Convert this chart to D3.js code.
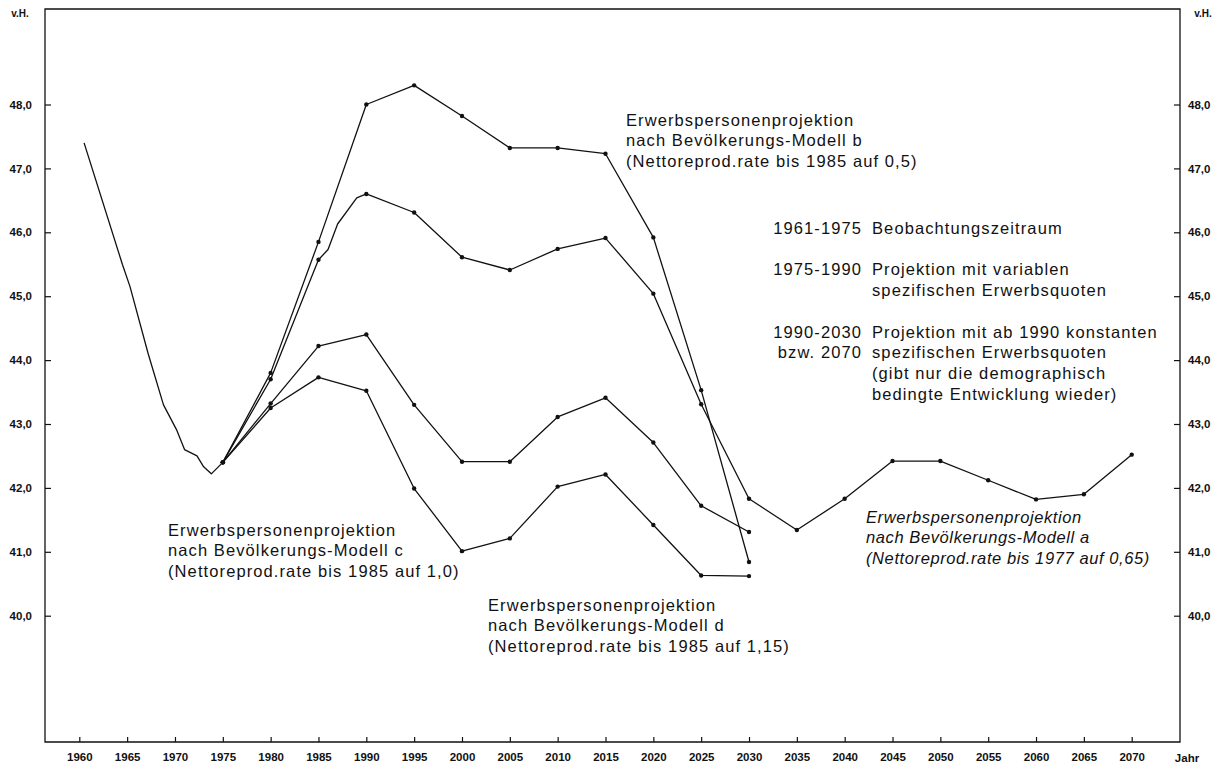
<!DOCTYPE html>
<html><head><meta charset="utf-8">
<script src="https://cdn.jsdelivr.net/npm/d3@7"></script>
<style>
html,body{margin:0;padding:0;background:#fff;}
svg{display:block;font-family:"Liberation Sans",Arial,Helvetica,sans-serif;}
</style></head>
<body><svg id="c" width="1223" height="764"></svg>
<script>
// ---- data ----
const xTickYears = d3.range(1960, 2071, 5);
const yTickValues = [40, 41, 42, 43, 44, 45, 46, 47, 48];
const observedYears = [1960.5, 1964.5, 1965.3, 1967.2, 1968.8, 1970.2, 1971.0, 1972.3, 1973.0, 1973.8, 1975];
const observedValues = [47.4, 45.5, 45.15, 44.1, 43.3, 42.9, 42.6, 42.5, 42.33, 42.22, 42.4];
const projYears = [1975, 1980, 1985, 1990, 1995, 2000, 2005, 2010, 2015, 2020, 2025, 2030];
const modelB = [42.4, 43.8, 45.85, 48.0, 48.3, 47.82, 47.32, 47.32, 47.23, 45.92, 43.53, 40.84];
const modelC = [42.4, 43.32, 44.22, 44.4, 43.3, 42.41, 42.41, 43.11, 43.41, 42.71, 41.72, 41.31];
const modelD = [42.4, 43.25, 43.73, 43.52, 41.99, 41.01, 41.21, 42.02, 42.21, 41.42, 40.63, 40.62];
const modelAYears = [1975, 1980, 1984, 1985, 1986, 1987, 1989, 1990, 1995, 2000, 2005, 2010, 2015, 2020, 2025, 2030, 2035, 2040, 2045, 2050, 2055, 2060, 2065, 2070];
const modelA = [42.4, 43.7, 45.2, 45.57, 45.73, 46.13, 46.54, 46.6, 46.31, 45.61, 45.41, 45.74, 45.91, 45.04, 43.31, 41.83, 41.34, 41.83, 42.42, 42.42, 42.12, 41.82, 41.9, 42.52];

const labelB = ["Erwerbspersonenprojektion", "nach Bevölkerungs-Modell b", "(Nettoreprod.rate bis 1985 auf 0,5)"];
const labelC = ["Erwerbspersonenprojektion", "nach Bevölkerungs-Modell c", "(Nettoreprod.rate bis 1985 auf 1,0)"];
const labelD = ["Erwerbspersonenprojektion", "nach Bevölkerungs-Modell d", "(Nettoreprod.rate bis 1985 auf 1,15)"];
const labelA = ["Erwerbspersonenprojektion", "nach Bevölkerungs-Modell a", "(Nettoreprod.rate bis 1977 auf 0,65)"];
const legendKeys = ["1961-1975", "1975-1990", "", "1990-2030", "bzw. 2070", "", ""];
const legendTexts = ["Beobachtungszeitraum", "Projektion mit variablen", "spezifischen Erwerbsquoten",
  "Projektion mit ab 1990 konstanten", "spezifischen Erwerbsquoten", "(gibt nur die demographisch", "bedingte Entwicklung wieder)"];
const legendRows = [0, 2, 3, 5, 6, 7, 8];

// ---- layout ----
const svg = d3.select("#c");
const L = 45, R = 1180, T = 9, B = 742;
const x = d3.scaleLinear().domain([1960, 2070]).range([79.3, 1131.7]);
const y = d3.scaleLinear().domain([40, 48]).range([615.7, 104.5]);
const ink = "#111";
const FS = "16.5px", LS = "1.1px";

// frame
svg.append("path").attr("d", `M${L},${T}H${R}V${B}H${L}Z`).attr("fill", "none").attr("stroke", ink).attr("stroke-width", 1.3);

// bottom axis
const xAxis = d3.axisBottom(x).tickValues(xTickYears).tickFormat(d3.format("d")).tickSizeInner(-5).tickSizeOuter(0).tickPadding(11);
const gx = svg.append("g").attr("transform", `translate(0,${B})`).call(xAxis);
gx.select(".domain").remove();
gx.selectAll("line").attr("stroke", ink).attr("stroke-width", 1.2);
gx.selectAll("text").attr("fill", ink).style("font-size", "11.5px").style("font-weight", "bold");
svg.append("text").attr("x", 1187).attr("y", 762).attr("text-anchor", "middle").attr("fill", ink)
  .style("font-size", "11.5px").style("font-weight", "bold").text("Jahr");

// left axis
const fmt = v => d3.format(".1f")(v).replace(".", ",");
const yl = d3.axisLeft(y).tickValues(yTickValues).tickFormat(fmt).tickSizeInner(-6).tickSizeOuter(0).tickPadding(13);
const gyl = svg.append("g").attr("transform", `translate(${L},0)`).call(yl);
gyl.select(".domain").remove();
gyl.selectAll("line").attr("stroke", ink).attr("stroke-width", 1.2);
gyl.selectAll("text").attr("fill", ink).style("font-size", "11.5px").style("font-weight", "bold");
// right axis
const yr = d3.axisRight(y).tickValues(yTickValues).tickFormat(fmt).tickSizeInner(-6).tickSizeOuter(0).tickPadding(8);
const gyr = svg.append("g").attr("transform", `translate(${R},0)`).call(yr);
gyr.select(".domain").remove();
gyr.selectAll("line").attr("stroke", ink).attr("stroke-width", 1.2);
gyr.selectAll("text").attr("fill", ink).style("font-size", "11.5px").style("font-weight", "bold");

svg.append("text").attr("x", 20).attr("y", 17).attr("text-anchor", "middle").attr("fill", ink)
  .style("font-size", "10px").style("font-weight", "bold").text("v.H.");
svg.append("text").attr("x", 1203).attr("y", 17).attr("text-anchor", "middle").attr("fill", ink)
  .style("font-size", "10px").style("font-weight", "bold").text("v.H.");

// lines
const line = d3.line().x(d => x(d[0])).y(d => y(d[1]));
function series(years, vals, dots) {
  const pts = years.map((yy, i) => [yy, vals[i]]);
  svg.append("path").datum(pts).attr("d", line).attr("fill", "none").attr("stroke", ink).attr("stroke-width", 1.3).attr("stroke-linejoin", "round");
  if (dots) {
    svg.append("g").selectAll("circle").data(pts.filter(p => p[0] % 5 === 0)).join("circle")
      .attr("cx", p => x(p[0])).attr("cy", p => y(p[1])).attr("r", 2.2).attr("fill", ink);
  }
}
series(observedYears, observedValues, false);
series(projYears, modelB, true);
series(projYears, modelC, true);
series(projYears, modelD, true);
series(modelAYears, modelA, true);

// text blocks
function block(lines, x0, y0, italic, ls) {
  const t = svg.append("text").attr("fill", ink).style("font-size", FS).style("letter-spacing", ls || LS)
    .style("font-style", italic ? "italic" : "normal");
  lines.forEach((s, i) => t.append("tspan").attr("x", x0).attr("y", y0 + i * 20.3).text(s));
}
block(labelB, 626, 126, false);
block(labelC, 168, 536, false);
block(labelD, 488, 611, false);
block(labelA, 866, 523, true, "0.6px");

const lg = svg.append("g");
legendRows.forEach((r, i) => {
  const yy = 233.5 + r * 20.8;
  if (legendKeys[i]) lg.append("text").attr("x", 862).attr("y", yy).attr("text-anchor", "end").attr("fill", ink)
    .style("font-size", FS).style("letter-spacing", LS).text(legendKeys[i]);
  lg.append("text").attr("x", 872).attr("y", yy).attr("fill", ink).style("font-size", FS).style("letter-spacing", LS).text(legendTexts[i]);
});
</script></body></html>
